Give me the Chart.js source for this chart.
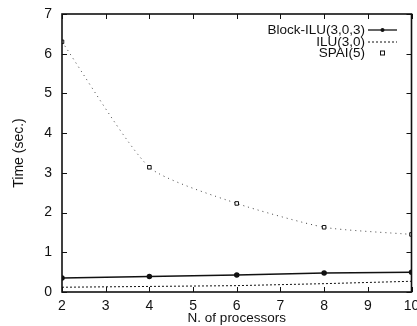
<!DOCTYPE html>
<html>
<head>
<meta charset="utf-8">
<script src="https://cdn.jsdelivr.net/npm/chart.js@4"></script>
<style>
  html, body { margin: 0; padding: 0; background: #fff; }
  #wrap { width: 417px; height: 326px; }
</style>
</head>
<body>
<div id="wrap"><canvas id="timeChart" width="417" height="326"></canvas></div>
<script>
// Timing vs. processor count
const processors = [2, 4, 6, 8, 10];
const blockIlu = [0.35, 0.39, 0.43, 0.48, 0.50];
const ilu = [0.12, 0.14, 0.16, 0.21, 0.27];
const spai = [6.30, 3.14, 2.23, 1.63, 1.45];
const xTicks = [2, 3, 4, 5, 6, 7, 8, 9, 10];
const yTicks = [0, 1, 2, 3, 4, 5, 6, 7];
const seriesNames = ['Block-ILU(3,0,3)', 'ILU(3,0)', 'SPAI(5)'];

const FONT = '"Liberation Sans", Arial, sans-serif';
const INK = '#111';

function toPoints(vals) {
    return processors.map((p, i) => ({ x: p, y: vals[i] }));
}

// frame, inward ticks on all four sides, and the legend block
const framePlugin = {
    id: 'frame',
    afterDatasetsDraw(chart) {
        const { ctx, chartArea: a, scales } = chart;
        ctx.save();
        ctx.strokeStyle = INK;
        ctx.lineWidth = 1.6;
        ctx.strokeRect(a.left, a.top, a.right - a.left, a.bottom - a.top);

        ctx.lineWidth = 1;
        const tl = 5;
        xTicks.forEach(v => {
            const px = Math.round(scales.x.getPixelForValue(v)) + 0.5;
            ctx.beginPath();
            ctx.moveTo(px, a.bottom); ctx.lineTo(px, a.bottom - tl);
            ctx.moveTo(px, a.top); ctx.lineTo(px, a.top + tl);
            ctx.stroke();
        });
        yTicks.forEach(v => {
            const py = Math.round(scales.y.getPixelForValue(v)) + 0.5;
            ctx.beginPath();
            ctx.moveTo(a.left, py); ctx.lineTo(a.left + tl, py);
            ctx.moveTo(a.right, py); ctx.lineTo(a.right - tl, py);
            ctx.stroke();
        });

        // legend: right-aligned names with a sample to the right
        ctx.font = '13.5px ' + FONT;
        ctx.fillStyle = INK;
        ctx.textAlign = 'right';
        ctx.textBaseline = 'middle';
        const textX = 365, s0 = 368, s1 = 397, rows = [30, 42, 53];
        rows.forEach((y, i) => {
            ctx.fillText(seriesNames[i], textX, y);
        });
        // Block-ILU sample
        ctx.strokeStyle = INK;
        ctx.lineWidth = 1.3;
        ctx.beginPath(); ctx.moveTo(s0, rows[0]); ctx.lineTo(s1, rows[0]); ctx.stroke();
        ctx.beginPath(); ctx.arc((s0 + s1) / 2, rows[0], 2, 0, Math.PI * 2); ctx.fill();
        // ILU sample
        ctx.lineWidth = 1;
        ctx.setLineDash([2, 2]);
        ctx.beginPath(); ctx.moveTo(s0, rows[1]); ctx.lineTo(s1, rows[1]); ctx.stroke();
        ctx.setLineDash([]);
        // SPAI sample
        ctx.strokeRect((s0 + s1) / 2 - 2, rows[2] - 2, 4, 4);
        ctx.restore();
    }
};

new Chart(document.getElementById('timeChart'), {
    type: 'line',
    data: {
        datasets: [
            {
                label: seriesNames[0],
                data: toPoints(blockIlu),
                borderColor: INK,
                backgroundColor: INK,
                borderWidth: 1.5,
                pointRadius: 2,
                pointStyle: 'circle',
                tension: 0
            },
            {
                label: seriesNames[1],
                data: toPoints(ilu),
                borderColor: INK,
                borderWidth: 1,
                borderDash: [2, 2],
                pointRadius: 0,
                tension: 0
            },
            {
                label: seriesNames[2],
                data: toPoints(spai),
                borderColor: '#444',
                borderWidth: 1,
                borderDash: [1, 4],
                tension: 0.2,
                pointRadius: 2.5,
                pointStyle: 'rect',
                pointBorderColor: INK,
                pointBackgroundColor: '#fff',
                pointBorderWidth: 1
            }
        ]
    },
    options: {
        responsive: false,
        animation: false,
        layout: { padding: { top: 14, right: 4, left: 0, bottom: 0 } },
        plugins: {
            legend: { display: false },
            tooltip: { enabled: false }
        },
        scales: {
            x: {
                type: 'linear',
                min: 2,
                max: 10,
                afterFit: s => { s.height = 34; s.paddingRight = 0; s.paddingLeft = 0; },
                afterBuildTicks: s => { s.ticks = xTicks.map(v => ({ value: v })); },
                grid: { display: false, drawTicks: false },
                border: { display: false },
                ticks: { color: INK, padding: 6, font: { family: FONT, size: 14 }, maxRotation: 0 },
                title: {
                    display: true,
                    text: 'N. of processors',
                    color: INK,
                    font: { family: FONT, size: 13.5 },
                    padding: { top: -3, bottom: 0 }
                }
            },
            y: {
                min: 0,
                max: 7,
                afterFit: s => { s.width = 62; s.paddingTop = 0; s.paddingBottom = 0; },
                afterBuildTicks: s => { s.ticks = yTicks.map(v => ({ value: v })); },
                grid: { display: false, drawTicks: false },
                border: { display: false },
                ticks: { color: INK, padding: 10, font: { family: FONT, size: 14 } },
                title: {
                    display: true,
                    text: 'Time (sec.)',
                    color: INK,
                    font: { family: FONT, size: 14 },
                    padding: { top: 11, bottom: 0 }
                }
            }
        }
    },
    plugins: [framePlugin]
});
</script>
</body>
</html>
